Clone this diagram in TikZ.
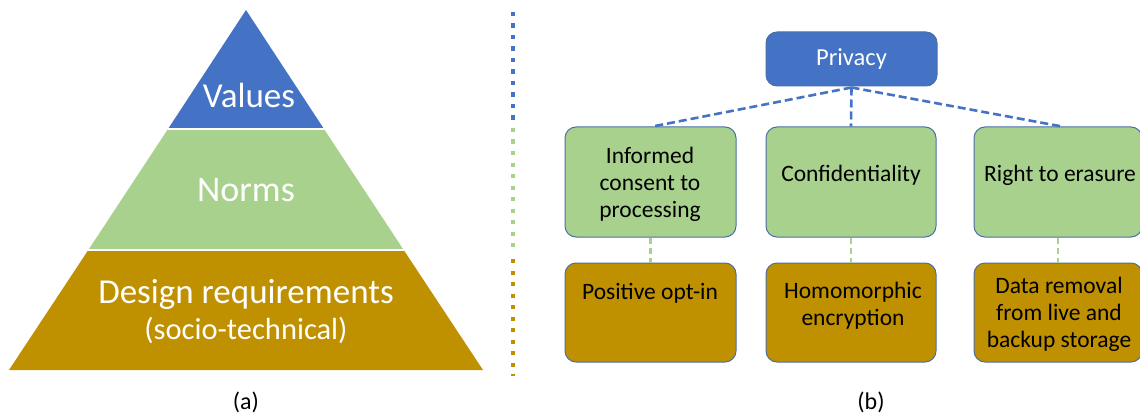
\documentclass[tikz,border=0pt]{standalone}
\usepackage{fontspec}
\setmainfont{Carlito}
\definecolor{vblue}{HTML}{4472C4}
\definecolor{ngreen}{HTML}{A9D18E}
\definecolor{dgold}{HTML}{BF9000}
\definecolor{boxline}{HTML}{4A6FA5}
\begin{document}
\begin{tikzpicture}[x=1pt,y=-1pt,
  rbox/.style={draw=boxline,line width=1pt,rounded corners=11pt},
  btxt/.style={font=\fontsize{23.5}{27}\selectfont,align=center,inner sep=0pt},
  ptxt/.style={text=white,inner sep=0pt,align=center},
  bconn/.style={draw=vblue,line width=2.6pt,dash pattern=on 8pt off 4pt},
  gconn/.style={draw=ngreen,line width=2.6pt,dash pattern=on 6pt off 4pt},
  sep/.style={line width=4.2pt,dash pattern=on 4.2pt off 7.3pt}]
\useasboundingbox (0,0) rectangle (1140,417);
% pyramid
\coordinate (apex) at (246,10);
\coordinate (l1) at (168,129); \coordinate (r1) at (324,129);
\coordinate (l2) at (88.3,250); \coordinate (r2) at (403.7,250);
\coordinate (bl) at (9,370); \coordinate (br) at (483,370);
\fill[vblue] (apex) -- (r1) -- (l1) -- cycle;
\fill[ngreen] (l1) -- (r1) -- (r2) -- (l2) -- cycle;
\fill[dgold] (l2) -- (r2) -- (br) -- (bl) -- cycle;
\draw[white,line width=1.5pt] (l1) -- (r1);
\draw[white,line width=1.5pt] (l2) -- (r2);
\node[ptxt,font=\fontsize{35}{40}\selectfont] (values) at (249,95) {Values};
\node[ptxt,font=\fontsize{36}{40}\selectfont] (norms) at (246,190) {Norms};
\node[ptxt,font=\fontsize{35}{40}\selectfont] (design) at (246,294) {Design requirements};
\node[ptxt,font=\fontsize{30.5}{36}\selectfont] (socio) at (246,330) {(socio-technical)};
\node[inner sep=0pt,font=\fontsize{24}{28}\selectfont] (capa) at (246,402) {(a)};
\node[inner sep=0pt,font=\fontsize{24}{28}\selectfont] (capb) at (871,402) {(b)};
% separator
\draw[sep,draw=vblue] (513,12) -- (513,120);
\draw[sep,draw=ngreen] (513,128) -- (513,248);
\draw[sep,draw=dgold] (513,259) -- (513,376);
% boxes
\node[rbox,fill=vblue,minimum width=171pt,minimum height=54pt] (priv) at (851.5,59) {};
\node[text=white,btxt,font=\fontsize{24.5}{28}\selectfont] (privt) at (851.5,59) {Privacy};
\node[rbox,fill=ngreen,minimum width=171pt,minimum height=110pt] (n1) at (650.5,182) {};
\node[rbox,fill=ngreen,minimum width=170pt,minimum height=110pt] (n2) at (851,182) {};
\node[rbox,fill=ngreen,minimum width=168pt,minimum height=110pt] (n3) at (1058,182) {};
\node[rbox,fill=dgold,minimum width=171pt,minimum height=99pt] (d1) at (650.5,312.5) {};
\node[rbox,fill=dgold,minimum width=170pt,minimum height=99pt] (d2) at (851,312.5) {};
\node[rbox,fill=dgold,minimum width=168pt,minimum height=99pt] (d3) at (1058,312.5) {};
\node[btxt] (n1t) at (650,184) {Informed\\consent to\\processing};
\node[btxt] (n2t) at (851,175) {Confidentiality};
\node[btxt] (n3t) at (1060,175) {Right to erasure};
\node[btxt] (d1t) at (650,293) {Positive opt-in};
\node[btxt] (d2t) at (853,306) {Homomorphic\\encryption};
\node[btxt] (d3t) at (1059,314) {Data removal\\from live and\\backup storage};
% connectors
\coordinate (pb) at ([yshift=-1pt]priv.south);
\draw[bconn] (pb) -- ([xshift=2pt]n1.north);
\draw[bconn] (pb) -- (n2.north);
\draw[bconn] (pb) -- ([xshift=4pt]n3.north);
\draw[gconn] (n1.south) -- (d1.north);
\draw[gconn] (n2.south) -- (d2.north);
\draw[gconn] (n3.south) -- ([xshift=0pt]d3.north);
\end{tikzpicture}
\end{document}
